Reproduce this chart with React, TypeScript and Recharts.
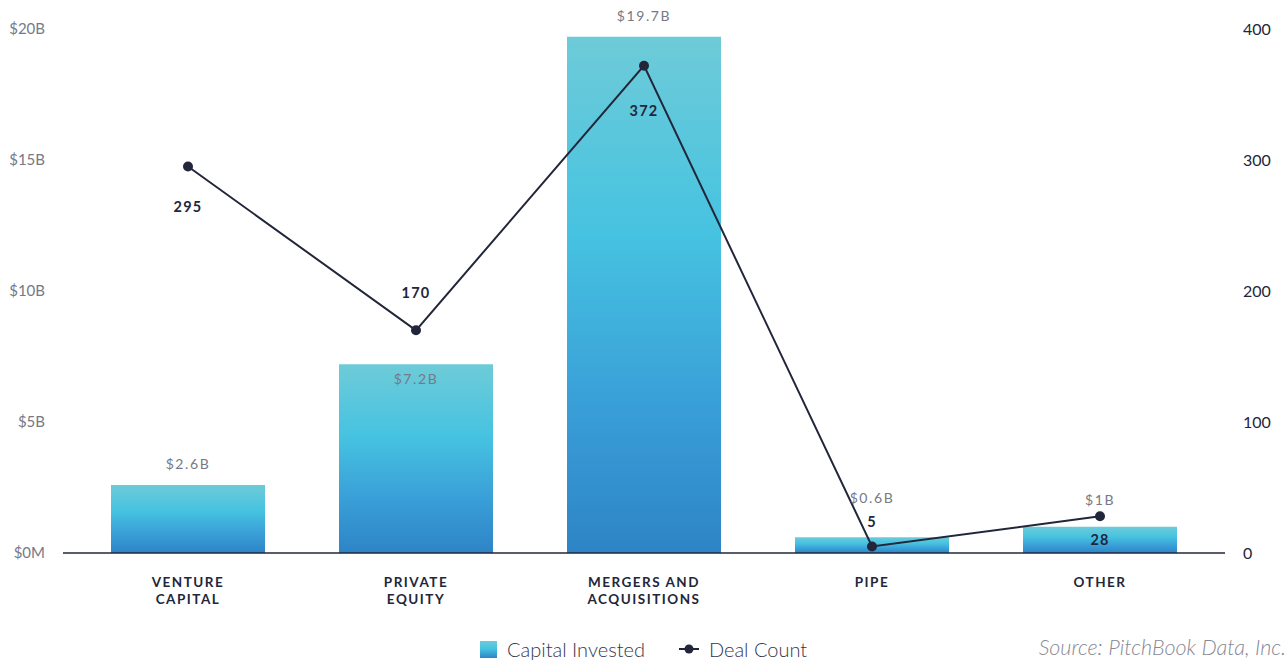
import React from "react";
import {
  ComposedChart,
  Bar,
  Line,
  XAxis,
  YAxis,
  Legend,
  LabelList,
} from "recharts";

// ── Data ────────────────────────────────────────────────────────────────────
const categories = [
  "VENTURE CAPITAL",
  "PRIVATE EQUITY",
  "MERGERS AND ACQUISITIONS",
  "PIPE",
  "OTHER",
];
const capitalInvested = [2.6, 7.2, 19.7, 0.6, 1]; // $B
const dealCount = [295, 170, 372, 5, 28];
const capitalTicks = [0, 5, 10, 15, 20];
const dealTicks = [0, 100, 200, 300, 400];

const data = categories.map((category, i) => ({
  category,
  capital: capitalInvested[i],
  deals: dealCount[i],
}));

// ── Look ────────────────────────────────────────────────────────────────────
const FONT = "Lato, 'Open Sans', sans-serif";
const INK = "#22263a";
const GREY = "#767986";

// label nudges so value labels clear the line and each other
const BAR_LABEL_DY = [-21, 14, -21, -40, -27];
const LINE_LABEL_DY = [40, -38, 45, -25, 23];

const fmtCapital = (v: number) => (v === 0 ? "$0M" : `$${v}B`);

const splitCategory = (s: string) => {
  const words = s.split(" ");
  if (words.length < 2) return [s];
  return [words.slice(0, -1).join(" "), words[words.length - 1]];
};

const CategoryTick = ({ x, y, payload }: any) => {
  const lines = splitCategory(payload.value);
  return (
    <text
      x={x}
      y={y}
      textAnchor="middle"
      fill={INK}
      fontFamily={FONT}
      fontSize={13.5}
      fontWeight={700}
      letterSpacing={1.5}
    >
      {lines.map((l, i) => (
        <tspan key={i} x={x} dy={i === 0 ? 26 : 17}>
          {l}
        </tspan>
      ))}
    </text>
  );
};

const BarValueLabel = ({ x, y, width, value, index }: any) => (
  <text
    x={x + width / 2}
    y={y + BAR_LABEL_DY[index]}
    textAnchor="middle"
    dominantBaseline="central"
    fill={GREY}
    fontFamily={FONT}
    fontSize={14}
    letterSpacing={1.6}
  >
    {`$${value}B`}
  </text>
);

const LineValueLabel = ({ x, y, value, index }: any) => (
  <text
    x={x}
    y={y + LINE_LABEL_DY[index]}
    textAnchor="middle"
    dominantBaseline="central"
    fill={INK}
    fontFamily={FONT}
    fontSize={14.5}
    fontWeight={700}
    letterSpacing={1.2}
  >
    {value}
  </text>
);

const ChartLegend = () => (
  <div
    style={{
      display: "flex",
      alignItems: "center",
      fontFamily: FONT,
      fontSize: 20,
      fontWeight: 300,
      color: "#33364a",
      whiteSpace: "nowrap",
    }}
  >
    <svg width={17} height={17} style={{ marginRight: 10 }}>
      <defs>
        <linearGradient id="legendFill" x1="0" y1="0" x2="0" y2="1">
          <stop offset="0%" stopColor="#6ecbd8" />
          <stop offset="45%" stopColor="#46c3e1" />
          <stop offset="100%" stopColor="#2e84c6" />
        </linearGradient>
      </defs>
      <rect width={17} height={17} fill="url(#legendFill)" />
    </svg>
    <span style={{ marginRight: 34 }}>Capital Invested</span>
    <svg width={20} height={12} style={{ marginRight: 10 }}>
      <line x1={0} y1={6} x2={20} y2={6} stroke={INK} strokeWidth={2} />
      <circle cx={10} cy={6} r={4.5} fill={INK} />
    </svg>
    <span>Deal Count</span>
  </div>
);

export default function App() {
  return (
    <div style={{ position: "relative", width: 1288, height: 661, background: "#fff" }}>
      <style>{"body{margin:0}"}</style>
      <ComposedChart
        width={1288}
        height={661}
        data={data}
        margin={{ top: 29, right: 0, bottom: 24, left: 0 }}
      >
        <defs>
          <linearGradient id="capitalFill" x1="0" y1="0" x2="0" y2="1">
            <stop offset="0%" stopColor="#6ecbd8" />
            <stop offset="38%" stopColor="#46c3e1" />
            <stop offset="70%" stopColor="#3aa0d8" />
            <stop offset="100%" stopColor="#2e84c6" />
          </linearGradient>
        </defs>
        <XAxis
          dataKey="category"
          height={60}
          interval={0}
          padding={{ left: 11, right: 11 }}
          axisLine={{ stroke: INK, strokeWidth: 1.5 }}
          tickLine={false}
          tick={<CategoryTick />}
        />
        <YAxis
          yAxisId="capital"
          orientation="left"
          width={63}
          domain={[0, 20]}
          ticks={capitalTicks}
          tickFormatter={fmtCapital}
          axisLine={false}
          tickLine={false}
          tickSize={0}
          tickMargin={18}
          tick={{ fill: GREY, fontSize: 15, fontFamily: FONT }}
        />
        <YAxis
          yAxisId="deals"
          orientation="right"
          width={63}
          domain={[0, 400]}
          ticks={dealTicks}
          axisLine={false}
          tickLine={false}
          tickSize={0}
          tickMargin={18}
          tick={{ fill: INK, fontSize: 16, fontFamily: FONT, textAnchor: "start" }}
        />
        <Bar
          yAxisId="capital"
          dataKey="capital"
          name="Capital Invested"
          barSize={154}
          fill="url(#capitalFill)"
          isAnimationActive={false}
        >
          <LabelList dataKey="capital" content={<BarValueLabel />} />
        </Bar>
        <Line
          yAxisId="deals"
          dataKey="deals"
          name="Deal Count"
          type="linear"
          stroke={INK}
          strokeWidth={2}
          dot={{ r: 5, fill: INK, stroke: INK, strokeWidth: 0 }}
          activeDot={false}
          isAnimationActive={false}
        >
          <LabelList dataKey="deals" content={<LineValueLabel />} />
        </Line>
        <Legend
          content={<ChartLegend />}
          wrapperStyle={{ position: "absolute", left: 480, top: 637, width: "auto" }}
        />
      </ComposedChart>
      <div
        style={{
          position: "absolute",
          right: 2,
          top: 634,
          fontFamily: FONT,
          fontSize: 21.5,
          fontWeight: 300,
          fontStyle: "italic",
          color: "#878994",
          whiteSpace: "nowrap",
        }}
      >
        Source: PitchBook Data, Inc.
      </div>
    </div>
  );
}
